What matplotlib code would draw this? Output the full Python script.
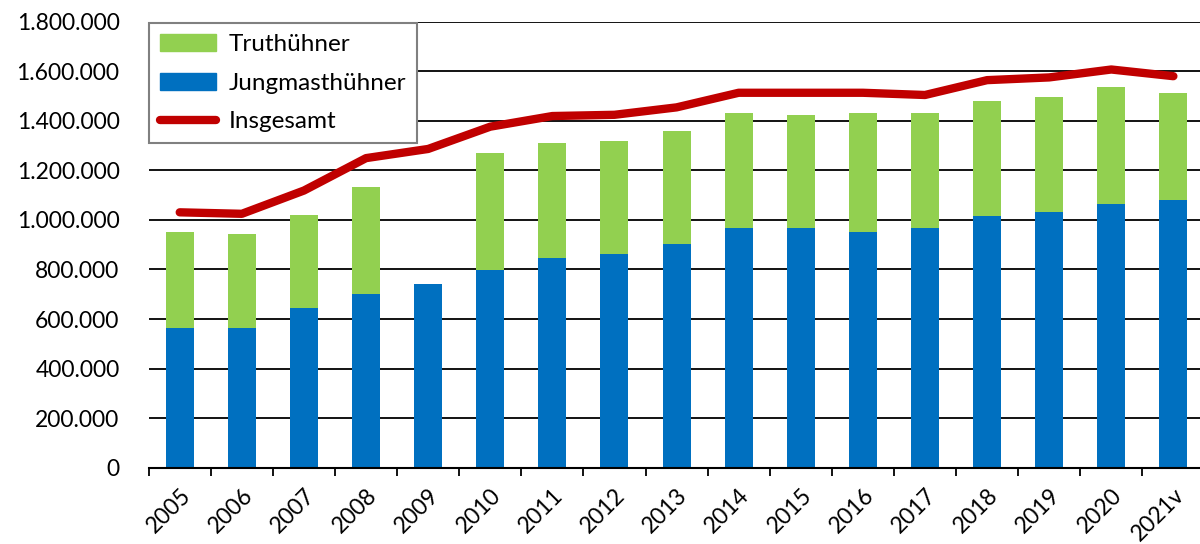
import numpy as np
import matplotlib.pyplot as plt
from matplotlib.patches import Patch
from matplotlib.lines import Line2D
from matplotlib.ticker import FuncFormatter

plt.rcParams['font.family'] = ['Lato', 'DejaVu Sans']

jahre = ['2005', '2006', '2007', '2008', '2009', '2010', '2011', '2012', '2013',
         '2014', '2015', '2016', '2017', '2018', '2019', '2020', '2021v']
jungmast = [564000, 564000, 644000, 701000, 741000, 798000, 846000, 862000, 902000,
            967000, 967000, 951000, 967000, 1015000, 1031000, 1064000, 1080000]
# Summe beider Balken (Oberkante gruen); 2009 ohne Truthuehner
balken_summe = [950000, 943000, 1022000, 1135000, 741000, 1272000, 1312000, 1321000, 1361000,
                1433000, 1425000, 1433000, 1433000, 1482000, 1498000, 1538000, 1514000]
insgesamt = [1031000, 1025000, 1119000, 1250000, 1287000, 1377000, 1420000, 1425000, 1455000,
             1514000, 1514000, 1514000, 1505000, 1565000, 1576000, 1608000, 1581000]

truthuehner = [s - j for s, j in zip(balken_summe, jungmast)]

gruen = '#92D050'
blau = '#0070C0'
rot = '#C00000'

fig = plt.figure(figsize=(12, 5.44), dpi=100)
ax = fig.add_axes([0.1239, 0.1406, 0.8798, 0.8190])

x = np.arange(len(jahre))
ax.bar(x, jungmast, width=0.45, color=blau, zorder=3)
ax.bar(x, truthuehner, bottom=jungmast, width=0.45, color=gruen, zorder=3)
ax.plot(x, insgesamt, color=rot, lw=6, solid_capstyle='round', solid_joinstyle='round', zorder=4)

ax.set_xlim(-0.5, len(jahre) - 0.5)
ax.set_ylim(0, 1800000)
ax.set_yticks(np.arange(0, 1800001, 200000))
ax.yaxis.set_major_formatter(FuncFormatter(lambda v, p: f'{int(v):,}'.replace(',', '.')))
ax.grid(axis='y', color='black', lw=1.3, zorder=1)
ax.tick_params(axis='y', length=0, labelsize=16.5, pad=21)

ax.set_xticks(x)
ax.set_xticklabels(jahre, rotation=45, ha='right', rotation_mode='anchor', fontsize=16.5)
ax.set_xticks(np.arange(-0.5, len(jahre), 1), minor=True)
ax.tick_params(axis='x', which='major', length=0, pad=12)
ax.tick_params(axis='x', which='minor', length=6, width=1.3, color='black')

for s in ['top', 'right', 'left']:
    ax.spines[s].set_visible(False)
ax.spines['bottom'].set_color('black')
ax.spines['bottom'].set_linewidth(1.5)
ax.spines['bottom'].set_zorder(5)

handles = [Patch(color=gruen), Patch(color=blau),
           Line2D([0], [0], color=rot, lw=6, solid_capstyle='round')]
leg = ax.legend(handles, ['Truthühner', 'Jungmasthühner', 'Insgesamt'],
                loc='upper left', bbox_to_anchor=(0.0, 0.997), frameon=True,
                fancybox=False, edgecolor='#808080', framealpha=1, borderpad=0.45,
                handlelength=2.3, handleheight=0.7, labelspacing=0.72, handletextpad=0.55,
                borderaxespad=0, prop={'size': 17.5})
leg.get_frame().set_linewidth(1.5)
leg.set_zorder(6)

fig.savefig('out.png', dpi=100)
